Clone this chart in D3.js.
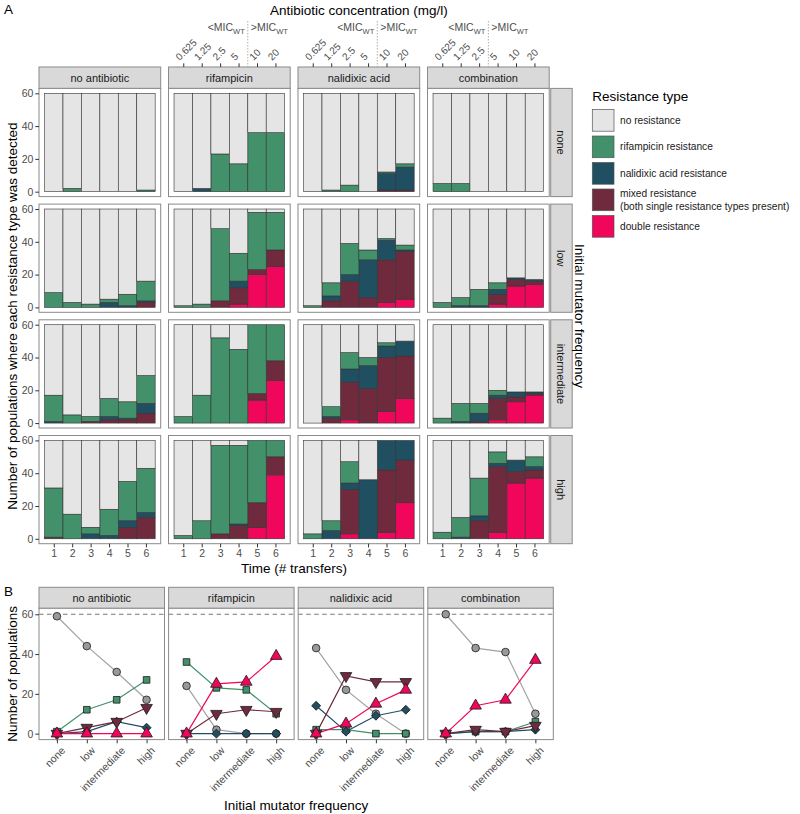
<!DOCTYPE html>
<html>
<head>
<meta charset="utf-8">
<script src="https://cdn.jsdelivr.net/npm/d3@7"></script>
<style>
  body { margin: 0; background: #fff; }
  svg { font-family: "Liberation Sans", Arial, sans-serif; }
</style>
</head>
<body>
<svg width="800" height="814"></svg>
<script>
// ---- DATI ----
var antibiotics = ["no antibiotic", "rifampicin", "nalidixic acid", "combination"];
var mutator = ["none", "low", "intermediate", "high"];
var times = [1, 2, 3, 4, 5, 6];
var concLabels = ["0.625", "1.25", "2.5", "5", "10", "20"];
var micSplit = [null, 4.5, 4.5, 3.5]; // where <MIC / >MIC changes, per antibiotic

var typeKeys = ["none", "rif", "nal", "mixed", "double"];
var typeLabels = [["no resistance"], ["rifampicin resistance"], ["nalidixic acid resistance"],
  ["mixed resistance", "(both single resistance types present)"], ["double resistance"]];

// panel A counts: [antibiotic][mutator][time]
var noRes = [
  [[60,58,60,60,60,59], [51,57,58,55,52,44], [43,55,56,45,47,31], [29,45,53,42,25,17]],
  [[60,58,37,43,24,24], [59,58,12,27,2,2], [56,43,8,15,0,0], [58,49,3,3,0,0]],
  [[60,59,56,60,48,43], [59,45,21,25,18,22], [60,50,17,20,11,10], [57,49,13,24,0,0]],
  [[55,55,60,60,60,60], [57,54,49,45,42,43], [57,48,48,40,41,41], [56,47,23,7,12,10]]
];
var rifRes = [
  [[0,2,0,0,0,1], [9,3,2,2,7,12], [16,5,3,11,10,17], [30,15,4,16,24,27]],
  [[0,0,23,17,36,36], [1,2,44,17,35,23], [4,17,52,45,42,22], [2,11,54,48,38,10]],
  [[0,1,4,0,1,2], [1,8,19,6,1,3], [0,6,10,5,2,0], [3,6,13,0,0,0]],
  [[5,5,0,0,0,0], [3,5,10,4,0,0], [3,11,6,3,0,0], [4,12,23,7,0,6]]
];
var nalRes = [
  [[0,0,0,0,0,0], [0,0,0,3,1,1], [1,0,0,2,1,6], [0,0,3,2,4,3]],
  [[0,2,0,0,0,0], [0,0,0,4,0,0], [0,0,0,0,0,0], [0,0,0,1,0,0]],
  [[0,0,0,0,10,14], [0,3,4,23,12,1], [0,1,8,14,7,9], [0,5,4,36,18,12]],
  [[0,0,0,0,0,0], [0,1,1,3,1,1], [0,1,5,2,3,1], [0,1,3,2,7,2]]
];
var mixedRes = [
  [[0,0,0,0,0,0], [0,0,0,0,0,3], [0,0,1,2,2,6], [1,0,0,0,7,13]],
  [[0,0,0,0,0,0], [0,0,4,10,3,10], [0,0,0,0,4,12], [0,0,3,8,15,11]],
  [[0,0,0,0,1,1], [0,4,16,6,26,29], [0,3,23,21,33,26], [0,0,27,0,38,26]],
  [[0,0,0,0,0,0], [0,0,0,6,4,2], [0,0,1,13,3,1], [0,0,11,40,7,5]]
];
var doubleRes = [
  [[0,0,0,0,0,0], [0,0,0,0,0,0], [0,0,0,0,0,0], [0,0,0,0,0,0]],
  [[0,0,0,0,0,0], [0,0,0,2,20,25], [0,0,0,0,14,26], [0,0,0,0,7,39]],
  [[0,0,0,0,0,0], [0,0,0,0,3,5], [0,0,2,0,7,15], [0,0,3,0,4,22]],
  [[0,0,0,0,0,0], [0,0,0,2,13,14], [0,0,0,2,13,17], [0,0,0,4,34,37]]
];

// panel B, end of experiment: [antibiotic][mutator]
var endNone   = [[59,44,31,17], [24,2,0,0], [43,22,10,0], [60,43,41,10]];
var endRif    = [[1,12,17,27], [36,23,22,10], [2,2,0,0], [0,1,1,6]];
var endNal    = [[0,1,6,3], [0,0,0,0], [14,1,9,12], [0,1,1,2]];
var endMixed  = [[0,3,6,13], [0,10,12,11], [0,29,26,26], [0,2,1,4]];
var endDouble = [[0,0,0,0], [0,25,26,39], [0,5,15,22], [0,14,17,37]];
var totalPops = 60;

// ---- STILE ----
var colori = { none: "#e5e5e5", rif: "#42916a", nal: "#214f62", mixed: "#6f2a3e", double: "#f0065b" };
var lineaColori = { none: "#a3a3a3", rif: "#42916a", nal: "#214f62", mixed: "#6f2a3e", double: "#f0065b" };
var puntoColori = { none: "#999999", rif: "#42916a", nal: "#214f62", mixed: "#6f2a3e", double: "#f0065b" };
var tickCol = "#4d4d4d", bordoCol = "#8a8a8a", stripFill = "#d9d9d9";

var svg = d3.select("svg");

function stileAsse(g, size) {
  g.select(".domain").remove();
  g.selectAll(".tick line").attr("stroke", "#333");
  g.selectAll(".tick text").attr("fill", tickCol).style("font-size", (size || 10.5) + "px");
}

function strip(x, y, w, h, testo, verticale) {
  svg.append("rect").attr("x", x).attr("y", y).attr("width", w).attr("height", h)
    .attr("fill", stripFill).attr("stroke", bordoCol).attr("stroke-width", 1);
  var t = svg.append("text").attr("fill", "#1a1a1a").style("font-size", "11px")
    .attr("text-anchor", "middle").attr("dominant-baseline", "central").text(testo);
  if (verticale) {
    t.attr("transform", "translate(" + (x + w / 2) + "," + (y + h / 2) + ") rotate(90)");
  } else {
    t.attr("x", x + w / 2).attr("y", y + h / 2);
  }
}

// ---- PANNELLO A ----
var aLeft = 39, aPw = 121.7, aGap = 7.8, aTop = 88.4, aPh = 108.2, aVgap = 7.5;
var aStripH = 21.4;
var xA = d3.scaleLinear().domain([0.2, 6.8]).range([0, aPw]);
var yA = d3.scaleLinear().domain([-3, 63]).range([aPh, 0]);
var stackKeys = ["double", "mixed", "nal", "rif", "none"];
var fonti = { none: noRes, rif: rifRes, nal: nalRes, mixed: mixedRes, double: doubleRes };

svg.append("text").attr("x", 4).attr("y", 14).style("font-size", "13.5px").text("A");

antibiotics.forEach(function(ab, a) {
  var px = aLeft + a * (aPw + aGap);
  strip(px, aTop - aStripH, aPw, aStripH, ab, false);

  // asse superiore con le concentrazioni
  if (micSplit[a] !== null) {
    var gTop = svg.append("g").attr("transform", "translate(" + px + "," + (aTop - aStripH) + ")")
      .call(d3.axisTop(xA).tickValues(times).tickSize(3.7).tickFormat(function(d, i) { return concLabels[i]; }));
    stileAsse(gTop, 10);
    gTop.selectAll(".tick text").attr("x", 0).attr("y", 0).attr("dy", null)
      .attr("transform", "translate(-4,-6) rotate(-45)").style("text-anchor", "start");

    var lx = px + xA(micSplit[a]);
    svg.append("line").attr("x1", lx).attr("x2", lx).attr("y1", 21).attr("y2", aTop - aStripH)
      .attr("stroke", "#9a9a9a").attr("stroke-width", 0.8).attr("stroke-dasharray", "1.5,1.5");
    [["<MIC", "end", -3], [">MIC", "start", 3]].forEach(function(m) {
      var t = svg.append("text").attr("x", lx + m[2]).attr("y", 31).attr("text-anchor", m[1])
        .attr("fill", tickCol).style("font-size", "10.5px");
      t.append("tspan").text(m[0]);
      t.append("tspan").attr("dy", 3).style("font-size", "7.5px").text("WT");
    });
  }

  mutator.forEach(function(mu, m) {
    var py = aTop + m * (aPh + aVgap);
    var g = svg.append("g").attr("transform", "translate(" + px + "," + py + ")");
    g.append("rect").attr("width", aPw).attr("height", aPh).attr("fill", "#fff");

    var righe = times.map(function(t, i) {
      var r = { time: t };
      stackKeys.forEach(function(k) { r[k] = fonti[k][a][m][i]; });
      return r;
    });
    var serie = d3.stack().keys(stackKeys)(righe);
    serie.forEach(function(s) {
      g.selectAll(null).data(s.filter(function(d) { return d[1] > d[0]; })).enter()
        .append("rect")
        .attr("x", function(d) { return xA(d.data.time - 0.5); })
        .attr("width", xA(1.5) - xA(0.5))
        .attr("y", function(d) { return yA(d[1]); })
        .attr("height", function(d) { return yA(d[0]) - yA(d[1]); })
        .attr("fill", colori[s.key])
        .attr("stroke", "#333").attr("stroke-width", 0.6);
    });
    g.append("rect").attr("width", aPw).attr("height", aPh).attr("fill", "none")
      .attr("stroke", bordoCol).attr("stroke-width", 1);

    if (a === 0) {
      var gy = g.append("g").call(d3.axisLeft(yA).tickValues([0, 20, 40, 60]).tickSize(3.7).tickPadding(2));
      stileAsse(gy);
    }
    if (m === mutator.length - 1) {
      var gx = g.append("g").attr("transform", "translate(0," + aPh + ")")
        .call(d3.axisBottom(xA).tickValues(times).tickFormat(d3.format("d")).tickSize(3.7).tickPadding(2));
      stileAsse(gx);
    }
    if (a === antibiotics.length - 1) {
      strip(px + aPw + 1.5, py, 21.5, aPh, mu, true);
    }
  });
});

var aRight = aLeft + 4 * aPw + 3 * aGap;
svg.append("text").attr("x", (aLeft + aPw + aGap + aRight) / 2).attr("y", 15)
  .attr("text-anchor", "middle").style("font-size", "13.5px").text("Antibiotic concentration (mg/l)");
svg.append("text").attr("x", (aLeft + aRight) / 2).attr("y", 573)
  .attr("text-anchor", "middle").style("font-size", "13.5px").text("Time (# transfers)");
svg.append("text").attr("transform", "translate(17," + (aTop + (4 * aPh + 3 * aVgap) / 2) + ") rotate(-90)")
  .attr("text-anchor", "middle").style("font-size", "13.5px")
  .text("Number of populations where each resistance type was detected");
svg.append("text").attr("transform", "translate(579," + (aTop + (4 * aPh + 3 * aVgap) / 2) + ") rotate(90)")
  .attr("text-anchor", "middle").attr("dominant-baseline", "central").style("font-size", "13.5px")
  .text("Initial mutator frequency");

// ---- LEGENDA ----
var legX = 592.3, legY = 109.5, legKey = 21.7, legStep = 26.5;
svg.append("text").attr("x", legX).attr("y", 101).style("font-size", "13.5px").text("Resistance type");
typeKeys.forEach(function(k, i) {
  var ky = legY + i * legStep;
  svg.append("rect").attr("x", legX).attr("y", ky).attr("width", legKey).attr("height", legKey)
    .attr("fill", colori[k]).attr("stroke", "#555").attr("stroke-width", 0.7);
  var righe = typeLabels[i];
  righe.forEach(function(r, j) {
    svg.append("text").attr("x", 620).attr("y", ky + legKey / 2 + (j - (righe.length - 1) / 2) * 13)
      .attr("dominant-baseline", "central").style("font-size", "10.2px").attr("fill", "#1a1a1a").text(r);
  });
});

// ---- PANNELLO B ----
var bLeft = 39, bPw = 125.5, bGap = 4.1, bTop = 608.3, bPh = 131.3, bStripH = 21;
var xB = d3.scalePoint().domain(mutator).range([0, bPw]).padding(0.6);
var yB = d3.scaleLinear().domain([-3, 63]).range([bPh, 0]);
var fineFonti = { none: endNone, rif: endRif, nal: endNal, mixed: endMixed, double: endDouble };
var simboli = { none: d3.symbolCircle, rif: d3.symbolSquare, nal: d3.symbolSquare, mixed: d3.symbolTriangle, double: d3.symbolTriangle };
var simboloSize = { none: 46, rif: 44, nal: 40, mixed: 58, double: 58 };
var simboloRot = { none: 0, rif: 0, nal: 45, mixed: 180, double: 0 };

svg.append("text").attr("x", 4).attr("y", 596).style("font-size", "13.5px").text("B");

antibiotics.forEach(function(ab, a) {
  var px = bLeft + a * (bPw + bGap);
  strip(px, bTop - bStripH, bPw, bStripH, ab, false);
  var g = svg.append("g").attr("transform", "translate(" + px + "," + bTop + ")");
  g.append("rect").attr("width", bPw).attr("height", bPh).attr("fill", "#fff");

  g.append("line").attr("x1", 0).attr("x2", bPw).attr("y1", yB(totalPops)).attr("y2", yB(totalPops))
    .attr("stroke", "#7a7a7a").attr("stroke-width", 1.1).attr("stroke-dasharray", "4.5,3.5");

  var linea = d3.line().x(function(d, i) { return xB(mutator[i]); }).y(function(d) { return yB(d); });
  typeKeys.forEach(function(k) {
    g.append("path").attr("d", linea(fineFonti[k][a])).attr("fill", "none")
      .attr("stroke", lineaColori[k]).attr("stroke-width", 1.2);
  });
  typeKeys.forEach(function(k) {
    g.selectAll(null).data(fineFonti[k][a]).enter().append("path")
      .attr("d", d3.symbol().type(simboli[k]).size(simboloSize[k]))
      .attr("transform", function(d, i) {
        return "translate(" + xB(mutator[i]) + "," + yB(d) + ") rotate(" + simboloRot[k] + ")";
      })
      .attr("fill", puntoColori[k]).attr("stroke", "#1a1a1a").attr("stroke-width", 0.8);
  });

  g.append("rect").attr("width", bPw).attr("height", bPh).attr("fill", "none")
    .attr("stroke", bordoCol).attr("stroke-width", 1);

  if (a === 0) {
    var gy = g.append("g").call(d3.axisLeft(yB).tickValues([0, 20, 40, 60]).tickSize(3.7).tickPadding(2));
    stileAsse(gy);
  }
  var gx = g.append("g").attr("transform", "translate(0," + bPh + ")")
    .call(d3.axisBottom(xB).tickSize(3.7));
  stileAsse(gx);
  gx.selectAll(".tick text").attr("x", 0).attr("y", 0).attr("dy", "0.75em")
    .attr("transform", "translate(3,6) rotate(-45)").style("text-anchor", "end");
});

var bRight = bLeft + 4 * bPw + 3 * bGap;
svg.append("text").attr("x", (bLeft + bRight) / 2).attr("y", 810)
  .attr("text-anchor", "middle").style("font-size", "13.5px").text("Initial mutator frequency");
svg.append("text").attr("transform", "translate(17," + (bTop + bPh / 2) + ") rotate(-90)")
  .attr("text-anchor", "middle").style("font-size", "13.5px").text("Number of populations");
</script>
</body>
</html>
